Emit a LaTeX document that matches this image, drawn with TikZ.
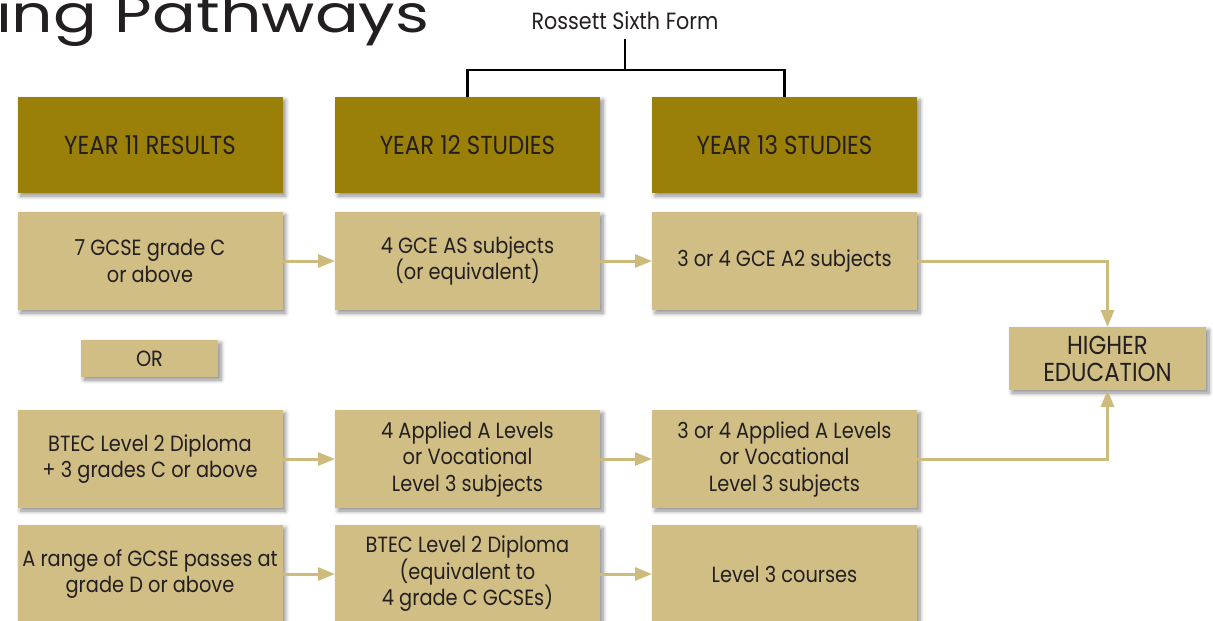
\documentclass[tikz,border=0pt]{standalone}
\usepackage{fontspec}
\setmainfont{Poppins}[FakeStretch=0.88]
\newfontfamily\titlefont{Poppins}[FakeStretch=1.25]
\usetikzlibrary{arrows.meta,shadows.blur}
\definecolor{c9a7f08}{RGB}{154,127,8}
\definecolor{cd0be84}{RGB}{208,190,132}
\definecolor{ccdbb7e}{RGB}{205,187,126}
\definecolor{c231f20}{RGB}{35,31,32}
\tikzset{
  softshadow/.style={blur shadow={shadow xshift=3pt,shadow yshift=-3pt,
    shadow blur radius=4pt,shadow blur steps=6,shadow opacity=45}},
  headbox/.style={fill=c9a7f08,softshadow,minimum width=265pt,
    minimum height=96pt,align=center,font=\fontsize{26}{27}\selectfont},
  stepbox/.style={fill=cd0be84,softshadow,minimum width=265pt,
    minimum height=98pt,align=center},
  arr/.style={draw=ccdbb7e,line width=3pt,-{Triangle[length=17pt,width=13pt]}},
  stem/.style={draw=black,line width=2.5pt,line join=miter,line cap=butt}
}

\begin{document}
\begin{tikzpicture}[y=-1pt,x=1pt,inner sep=0pt,outer sep=0pt,
    font=\fontsize{22}{26.5}\selectfont,text=c231f20]
  \useasboundingbox (0,0) rectangle (1213,621);
  \path (-4,32) node[anchor=base west] (title)
    {\titlefont\fontsize{52}{56}\selectfont ing Pathways};
  \path (625,21) node[font=\fontsize{23.5}{26}\selectfont] (rossett)
    {Rossett Sixth Form};
  \coordinate (split) at (625,70);

  % column heads
  \path (150,145) node[headbox] (head11) {YEAR 11 RESULTS};
  \path (467.5,145) node[headbox] (head12) {YEAR 12 STUDIES};
  \path (784.5,145) node[headbox] (head13) {YEAR 13 STUDIES};

  % first pathway
  \path (150,261) node[stepbox] (box11a) {7 GCSE grade C\\or above};
  \path (467.5,261) node[stepbox] (box12a) {4 GCE AS subjects\\(or equivalent)};
  \path (784.5,261) node[stepbox] (box13a) {3 or 4 GCE A2 subjects};
  \path (149.5,358.5) node[stepbox,minimum width=137pt,minimum height=37pt]
    (or) {OR};

  % second pathway
  \path (150,459) node[stepbox] (box11b) {BTEC Level 2 Diploma\\+ 3 grades C or above};
  \path (467.5,459) node[stepbox] (box12b) {4 Applied A Levels\\or Vocational\\Level 3 subjects};
  \path (784.5,459) node[stepbox] (box13b) {3 or 4 Applied A Levels\\or Vocational\\Level 3 subjects};

  % third pathway
  \path (150,574) node[stepbox] (box11c) {A range of GCSE passes at\\grade D or above};
  \path (467.5,574) node[stepbox] (box12c) {BTEC Level 2 Diploma\\(equivalent to\\4 grade C GCSEs)};
  \path (784.5,574) node[stepbox] (box13c) {Level 3 courses};

  \path (1107.5,358.5) node[stepbox,minimum width=197pt,minimum height=63pt,
    font=\fontsize{26}{27}\selectfont] (hed) {HIGHER\\EDUCATION};

  \draw[stem] ([yshift=-9pt]rossett.south) -- (split);
  \draw[stem] (head12.north) |- (split) -| (head13.north);

  \draw[arr] (box11a) -- (box12a);
  \draw[arr] (box12a) -- (box13a);
  \draw[arr] (box11b) -- (box12b);
  \draw[arr] (box12b) -- (box13b);
  \draw[arr] (box11c) -- (box12c);
  \draw[arr] (box12c) -- (box13c);
  \draw[arr] (box13a.east) -| (hed.north);
  \draw[arr] (box13b.east) -| (hed.south);
\end{tikzpicture}
\end{document}
